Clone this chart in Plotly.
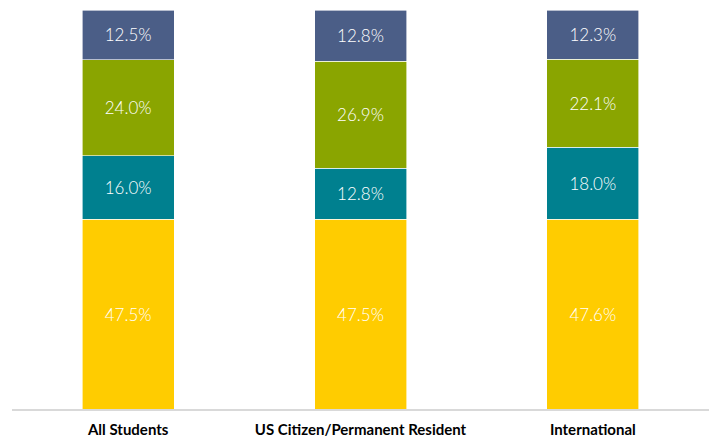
import plotly.graph_objects as go

categories = ["All Students", "US Citizen/Permanent Resident", "International"]
seg1 = [47.5, 47.5, 47.6]
seg2 = [16.0, 12.8, 18.0]
seg3 = [24.0, 26.9, 22.1]
seg4 = [12.5, 12.8, 12.3]
series = [
    ("Segment 1", seg1, "#FFCC00"),
    ("Segment 2", seg2, "#00808F"),
    ("Segment 3", seg3, "#8AA500"),
    ("Segment 4", seg4, "#4B5E87"),
]

fig = go.Figure()
for name, vals, color in series:
    fig.add_trace(go.Bar(
        x=categories, y=vals, name=name,
        marker=dict(color=color, line=dict(color="white", width=0.6)),
        text=[f"{v:.1f}%" for v in vals],
        textposition="inside", insidetextanchor="middle",
        textfont=dict(color="white", size=17, family="Lato, Open Sans, sans-serif", weight=300),
        width=0.396,
        hoverinfo="skip",
    ))

fig.update_layout(
    barmode="stack",
    width=713, height=439,
    margin=dict(l=12, r=4, t=10, b=30, autoexpand=False),
    paper_bgcolor="white", plot_bgcolor="white",
    showlegend=False,
    uniformtext=dict(mode=False),
    xaxis=dict(
        showline=True, linecolor="#D9D9D9", linewidth=1.5,
        tickfont=dict(family="Lato, Open Sans, sans-serif", size=15, color="black", weight="bold"),
        ticks="", showgrid=False, ticklabelstandoff=6, automargin=False,
    ),
    yaxis=dict(range=[0, 100], visible=False, showgrid=False, automargin=False),
)
fig.write_html("out.html", config={"displayModeBar": False},
               post_script="document.body.style.margin='0';")
